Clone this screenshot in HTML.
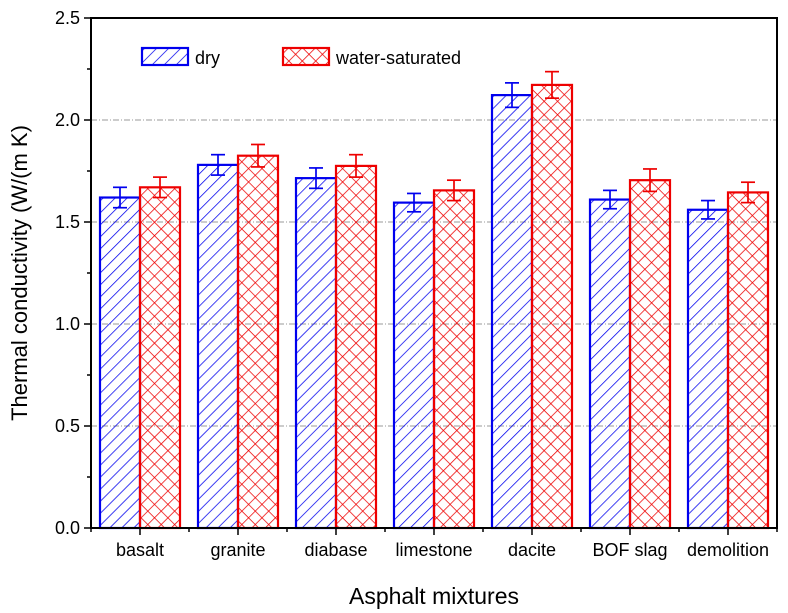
<!DOCTYPE html>
<html><head><meta charset="utf-8"><style>
html,body{margin:0;padding:0;background:#fff;}
svg{display:block;font-family:"Liberation Sans",Arial,sans-serif;}
</style></head><body>
<svg id="chart" width="788" height="613" viewBox="0 0 788 613">
<defs>
<pattern id="hatchDry" patternUnits="userSpaceOnUse" width="8.5" height="8.5" patternTransform="rotate(45)">
<line x1="0" y1="0" x2="0" y2="8.5" stroke="#0000ee" stroke-width="1.5"/></pattern>
<pattern id="hatchWet" patternUnits="userSpaceOnUse" width="9.5" height="9.5" patternTransform="rotate(45)">
<line x1="0" y1="0" x2="0" y2="9.5" stroke="#ee0000" stroke-width="1.5"/>
<line x1="0" y1="0" x2="9.5" y2="0" stroke="#ee0000" stroke-width="1.5"/></pattern>
</defs>
<g id="grid"></g>
<g id="bars"></g>
<g id="axes"></g>
<g>
<rect x="142" y="48" width="46" height="17" fill="url(#hatchDry)" stroke="#0000ee" stroke-width="2.2"/>
<text x="195" y="64" font-size="18">dry</text>
<rect x="283" y="48" width="46" height="17" fill="url(#hatchWet)" stroke="#ee0000" stroke-width="2.2"/>
<text x="336" y="64" font-size="18">water-saturated</text>
</g>
<text x="27" y="273" font-size="22" text-anchor="middle" transform="rotate(-90 27 273)">Thermal conductivity (W/(m K)</text>
<text x="434" y="604" font-size="23" text-anchor="middle">Asphalt mixtures</text>
</svg>
<script>
const categories=["basalt","granite","diabase","limestone","dacite","BOF slag","demolition"];
const dryValues=[1.62,1.78,1.715,1.595,2.122,1.61,1.56];
const dryErrors=[0.05,0.05,0.05,0.045,0.06,0.045,0.045];
const wetValues=[1.67,1.825,1.775,1.655,2.172,1.705,1.645];
const wetErrors=[0.05,0.055,0.055,0.05,0.065,0.055,0.05];
const yTicks=[0,0.5,1.0,1.5,2.0,2.5];
const yTickLabels=["0.0","0.5","1.0","1.5","2.0","2.5"];

const NS="http://www.w3.org/2000/svg";
const L=91,R=777,T=18,B=528,YMAX=2.5;
const step=(R-L)/categories.length, bw=40;
function y(v){return B-(v/YMAX)*(B-T);}
function xc(i){return L+step*(i+0.5);}
function mk(p,tag,a){const e=document.createElementNS(NS,tag);for(const k in a)e.setAttribute(k,a[k]);p.appendChild(e);return e;}
const grid=document.getElementById('grid'),bars=document.getElementById('bars'),axes=document.getElementById('axes');
yTicks.forEach((t,i)=>{
  if(t>0&&t<YMAX){const g=mk(grid,'line',{x1:L,x2:R,y1:y(t),y2:y(t),stroke:'#999','stroke-width':1,'stroke-dasharray':'6 2 1 2'});
  
  }
  mk(axes,'line',{x1:L-7,x2:L,y1:y(t),y2:y(t),stroke:'#000','stroke-width':1.5});
  const tx=mk(axes,'text',{x:L-11,y:y(t)+6,'font-size':18,'text-anchor':'end'});tx.textContent=yTickLabels[i];
  
  
  if(i<yTicks.length-1){const m=t+0.25;mk(axes,'line',{x1:L-4,x2:L,y1:y(m),y2:y(m),stroke:'#000','stroke-width':1.5});}
});
function bar(i,v,e,dx,fill,col,name){
  const x0=xc(i)+dx;
  const r=mk(bars,'rect',{x:x0,y:y(v),width:bw,height:B-y(v),fill:fill,stroke:col,'stroke-width':2.2});
  
  
  const cx=x0+bw/2;
  const g=mk(bars,'g',{stroke:col,'stroke-width':1.7});
  
  
  mk(g,'line',{x1:cx,x2:cx,y1:y(v+e),y2:y(v-e)});
  mk(g,'line',{x1:cx-7,x2:cx+7,y1:y(v+e),y2:y(v+e)});
  mk(g,'line',{x1:cx-7,x2:cx+7,y1:y(v-e),y2:y(v-e)});
}
categories.forEach((c,i)=>{
  bar(i,dryValues[i],dryErrors[i],-bw,'url(#hatchDry)','#0000ee','bar-dry-'+i);
  bar(i,wetValues[i],wetErrors[i],0,'url(#hatchWet)','#ee0000','bar-wet-'+i);
  mk(axes,'line',{x1:xc(i),x2:xc(i),y1:B,y2:B+7,stroke:'#000','stroke-width':1.5});
  mk(axes,'line',{x1:L+step*i,x2:L+step*i,y1:B,y2:B+4,stroke:'#000','stroke-width':1.5});
  const tx=mk(axes,'text',{x:xc(i),y:B+28,'font-size':18,'text-anchor':'middle'});tx.textContent=c;
  
  
});
mk(axes,'line',{x1:R,x2:R,y1:B,y2:B+4,stroke:'#000','stroke-width':1.5});
const fr=mk(axes,'rect',{x:L,y:T,width:R-L,height:B-T,fill:'none',stroke:'#000','stroke-width':2});


</script>
</body></html>
